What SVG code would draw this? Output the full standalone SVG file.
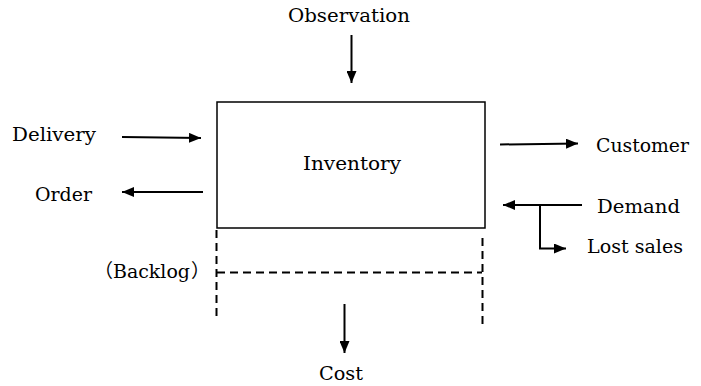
<svg xmlns="http://www.w3.org/2000/svg" width="701" height="386" viewBox="0 0 701 386">
<style>
text{font-family:"DejaVu Serif","Liberation Serif","Noto Sans CJK JP",serif;font-size:19px;fill:#000}
.a{stroke:#000;stroke-width:2;fill:none}
.d{stroke:#000;stroke-width:2;fill:none;stroke-dasharray:8 5}
</style>
<defs>
<marker id="ah" markerWidth="12" markerHeight="10" refX="12" refY="5" orient="auto" markerUnits="userSpaceOnUse">
<path d="M0,0 L12,5 L0,10 Z" fill="#000"/>
</marker>
</defs>
<rect width="701" height="386" fill="#fff"/>
<g id="inventory">
<rect x="217" y="102" width="268" height="126" fill="none" stroke="#000" stroke-width="1.5"/>
<text x="303" y="170" textLength="98" lengthAdjust="spacingAndGlyphs">Inventory</text>
</g>
<g id="backlog">
<line class="d" x1="216.5" y1="230" x2="216.5" y2="318"/>
<line class="d" x1="482.5" y1="238" x2="482.5" y2="327"/>
<line class="d" x1="217" y1="272.5" x2="482" y2="272.5"/>
<text y="278"><tspan x="94">（</tspan><tspan x="113" textLength="77" lengthAdjust="spacingAndGlyphs">Backlog</tspan><tspan x="191">）</tspan></text>
</g>
<g id="observation"><text x="288" y="22" textLength="122" lengthAdjust="spacingAndGlyphs">Observation</text></g>
<g id="delivery"><text x="12" y="141" textLength="84" lengthAdjust="spacingAndGlyphs">Delivery</text></g>
<g id="order"><text x="35" y="201" textLength="57" lengthAdjust="spacingAndGlyphs">Order</text></g>
<g id="customer"><text x="596" y="152" textLength="93" lengthAdjust="spacingAndGlyphs">Customer</text></g>
<g id="demand"><text x="597" y="213" textLength="83" lengthAdjust="spacingAndGlyphs">Demand</text></g>
<g id="lostsales"><text x="587" y="253" textLength="96" lengthAdjust="spacingAndGlyphs">Lost sales</text></g>
<g id="cost"><text x="319" y="380" textLength="44" lengthAdjust="spacingAndGlyphs">Cost</text></g>
<g id="connectors">
<line class="a" x1="351.5" y1="35" x2="351.5" y2="83" marker-end="url(#ah)"/>
<line class="a" x1="122" y1="137" x2="201" y2="138" marker-end="url(#ah)"/>
<line class="a" x1="203" y1="192" x2="122" y2="192" marker-end="url(#ah)"/>
<line class="a" x1="500" y1="144.5" x2="578" y2="143.5" marker-end="url(#ah)"/>
<line class="a" x1="582" y1="205" x2="503" y2="205" marker-end="url(#ah)"/>
<polyline class="a" points="540,205 540,248.5 566,248.5" marker-end="url(#ah)"/>
<line class="a" x1="344.5" y1="304" x2="344.5" y2="353" marker-end="url(#ah)"/>
</g>
</svg>
